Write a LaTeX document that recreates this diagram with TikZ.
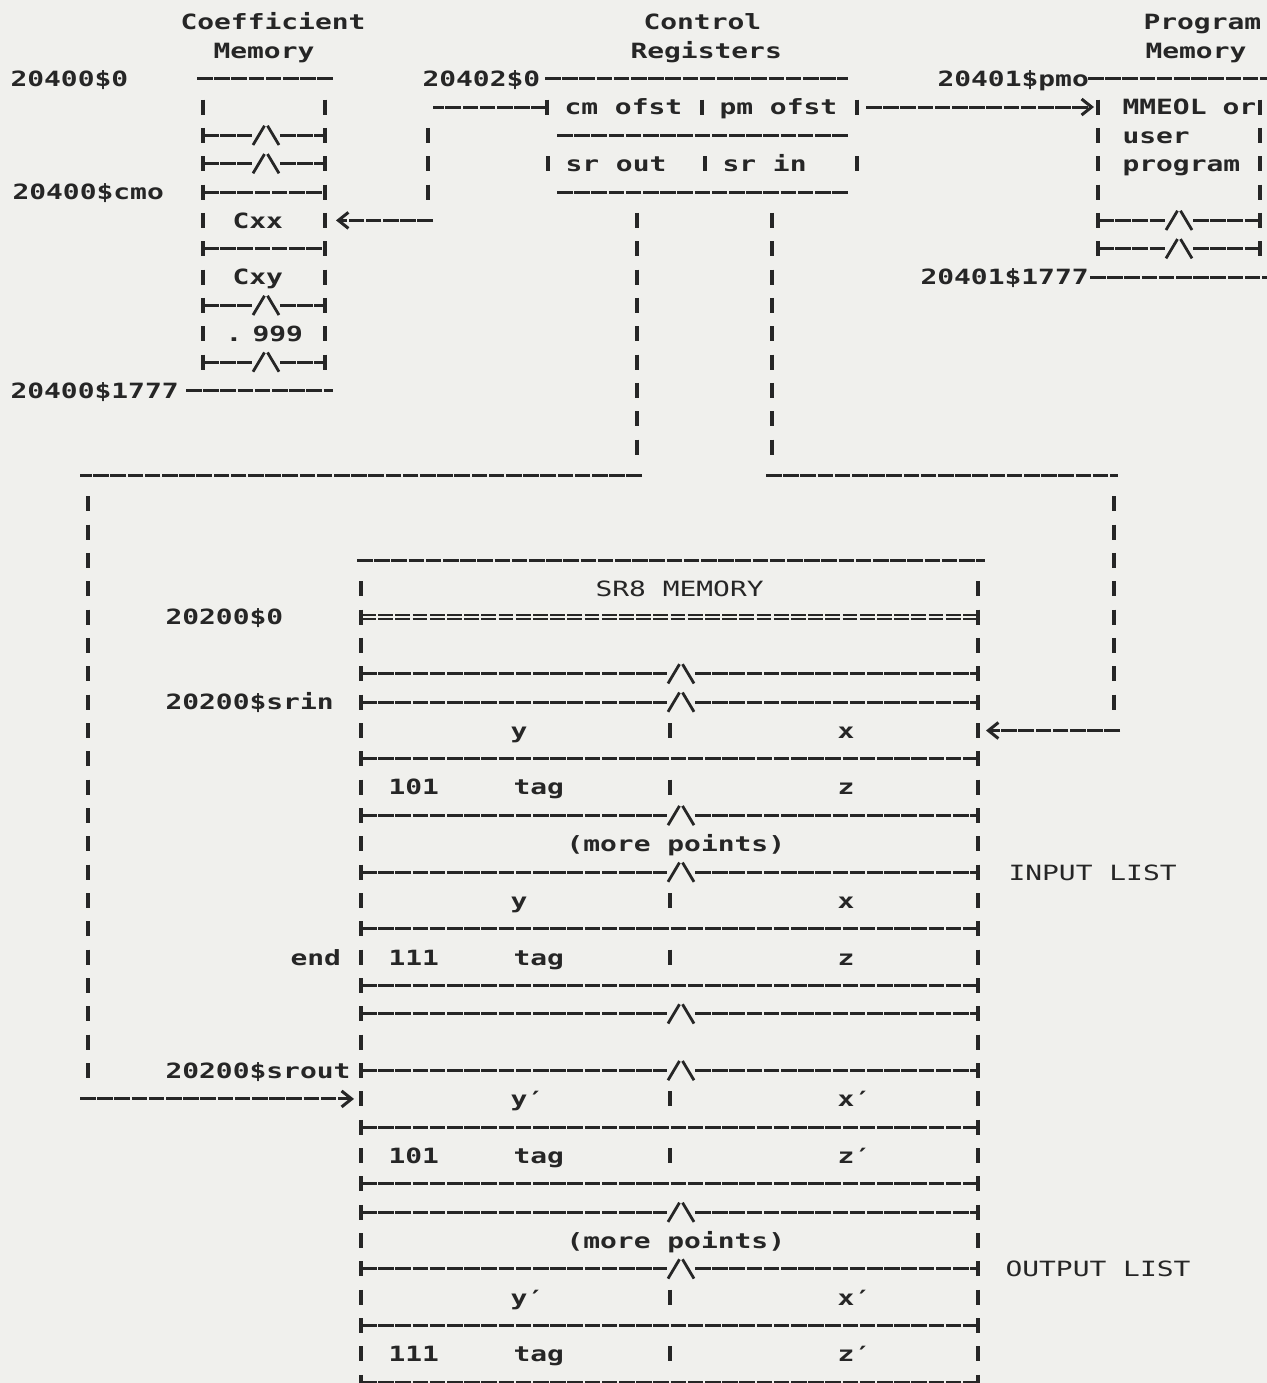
\documentclass[tikz,border=0pt]{standalone}
\usepackage{fontspec}
\newfontfamily\pmono{DejaVu Sans Mono}
\usetikzlibrary{arrows.meta}
\definecolor{ink}{RGB}{38,38,38}
\definecolor{paper}{RGB}{240,240,237}
\tikzset{
  hl/.style={draw=ink, line width=1.5pt, dash pattern=on 7.8pt off 0.8pt},
  vb/.style={draw=ink, line width=1.6pt, dash pattern=on 7.5pt off 6.67pt},
  sl/.style={draw=ink, line width=1.4pt},
  ar/.style={hl, -{Straight Barb[length=5pt,width=8pt]}},
  lb/.style={anchor=base west, inner sep=0pt, text=ink,
    font={\pmono\bfseries\fontsize{10.5}{12}\selectfont},
    xscale=1.33, transform shape, yshift=-3.9pt},
  lt/.style={lb, font={\pmono\fontsize{10.5}{12}\selectfont}}
}
\newcommand\vbars[3]{\draw[vb] (#1,#2-0.265) -- (#1,#3+0.265);}
\newcommand\brkln[4]{%
  \draw[hl] (#1,#3) -- (#4-14,#3);
  \draw[hl] (#4+14,#3) -- (#2,#3);
  \draw[sl] (#4-13,#3+0.34) -- (#4-1.5,#3-0.34);
  \draw[sl] (#4+1.5,#3-0.34) -- (#4+13,#3+0.34);}
\begin{document}
\begin{tikzpicture}
\begin{scope}[x=0.5pt, y=-14.17pt, yshift=-11pt]
\useasboundingbox (0,-0.7763) rectangle (1267,48.024);
\fill[paper] (0,-0.7763) rectangle (1267,48.024);

% titles
\node[lb] (tcoef) at (180,0) {Coefficient};
\node[lb] (tcmem) at (213,1) {Memory};
\node[lb] (tctl) at (643,0) {Control};
\node[lb] (treg) at (630,1) {Registers};
\node[lb] (tprog) at (1143,0) {Program};
\node[lb] (tpmem) at (1145,1) {Memory};

% coefficient memory
\node[lb] (a0) at (10,2) {20400\$0};
\node[lb] (acmo) at (12,6) {20400\$cmo};
\node[lb] (aend) at (10,13) {20400\$1777};
\draw[hl] (197,2) -- (333,2);
\draw[hl] (186,13) -- (333,13);
\vbars{203}{3}{12} \vbars{325}{3}{12}
\brkln{203}{325}{4}{266}
\brkln{203}{325}{5}{266}
\draw[hl] (203,6) -- (325,6);
\draw[hl] (203,8) -- (325,8);
\brkln{203}{325}{10}{266}
\brkln{203}{325}{12}{266}
\node[lb] (cxx) at (232,7) {Cxx};
\node[lb] (cxy) at (232,9) {Cxy};
\node[lb] (cdot) at (225,11) {.};
\node[lb] (c999) at (252,11) {999};

% control registers
\node[lb] (b0) at (422,2) {20402\$0};
\draw[hl] (545,2) -- (848,2);
\vbars{547}{3}{3} \vbars{702}{3}{3} \vbars{857}{3}{3}
\node[lb] (cmofst) at (564,3) {cm ofst};
\node[lb] (pmofst) at (719,3) {pm ofst};
\draw[hl] (557,4) -- (848,4);
\vbars{548}{5}{5} \vbars{705}{5}{5} \vbars{857}{5}{5}
\node[lb] (srout) at (565,5) {sr out};
\node[lb] (srin) at (722,5) {sr in};
\draw[hl] (557,6) -- (848,6);

% cm ofst -> Cxx
\coordinate (cmL) at (547,3);
\coordinate (cmC1) at (433,3);
\coordinate (cmC2) at (433,7);
\coordinate (cxxR) at (336,7);
\draw[hl] (cmL) -- (cmC1);
\vbars{428}{4}{6}
\draw[ar] (cmC2) -- (cxxR);

% pm ofst -> program memory
\coordinate (pmR) at (866,3);
\coordinate (progL) at (1094,3);
\draw[ar] (pmR) -- (progL);

% program memory
\node[lb] (pmo) at (937,2) {20401\$pmo};
\draw[hl] (1088,2) -- (1267,2);
\vbars{1098}{3}{8} \vbars{1260}{3}{8}
\node[lb] (mmeol) at (1122,3) {MMEOL};
\node[lb] (mor) at (1222,3) {or};
\node[lb] (muser) at (1122,4) {user};
\node[lb] (mprog) at (1122,5) {program};
\brkln{1098}{1260}{7}{1179}
\brkln{1098}{1260}{8}{1179}
\node[lb] (p1777) at (920,9) {20401\$1777};
\draw[hl] (1090,9) -- (1267,9);

% sr out / sr in connectors
\vbars{637}{7}{15} \vbars{772}{7}{15}
\draw[hl] (642,16) -- (80,16);
\draw[hl] (766,16) -- (1118,16);
\vbars{88}{17}{37}
\vbars{1114}{17}{24}
\coordinate (outS) at (80,38);
\coordinate (srbL) at (354,38);
\draw[ar] (outS) -- (srbL);
\coordinate (inS) at (1120,25);
\coordinate (srbR) at (986,25);
\draw[ar] (inS) -- (srbR);

% SR8 memory box
\draw[hl] (357,19) -- (985,19);
\vbars{361}{20}{48} \vbars{978}{20}{48}
\draw[ink, line width=1pt, dash pattern=on 7.4pt off 1.2pt] (361,21-0.08) -- (978,21-0.08);
\draw[ink, line width=1pt, dash pattern=on 7.4pt off 1.2pt] (361,21+0.08) -- (978,21+0.08);
\brkln{361}{978}{23}{681}
\brkln{361}{978}{24}{681}
\draw[hl] (361,26) -- (978,26);
\brkln{361}{978}{28}{681}
\brkln{361}{978}{30}{681}
\draw[hl] (361,32) -- (978,32);
\draw[hl] (361,34) -- (978,34);
\brkln{361}{978}{35}{681}
\brkln{361}{978}{37}{681}
\draw[hl] (361,39) -- (978,39);
\draw[hl] (361,41) -- (978,41);
\brkln{361}{978}{42}{681}
\brkln{361}{978}{44}{681}
\draw[hl] (361,46) -- (978,46);
\draw[hl] (361,48) -- (978,48);
\vbars{670}{25}{25} \vbars{670}{27}{27}
\vbars{670}{31}{31} \vbars{670}{33}{33}
\vbars{670}{38}{38} \vbars{670}{40}{40}
\vbars{670}{45}{45} \vbars{670}{47}{47}

\node[lt] (srbt) at (595,20) {SR8 MEMORY};
\node[lb] (s0) at (165,21) {20200\$0};
\node[lb] (ssrin) at (165,24) {20200\$srin};
\node[lb] (y1) at (510,25) {y};
\node[lb] (x1) at (837,25) {x};
\node[lb] (f1) at (388,27) {101};
\node[lb] (tag1) at (513,27) {tag};
\node[lb] (z1) at (837,27) {z};
\node[lb] (more1) at (566,29) {(more points)};
\node[lt] (inl) at (1008,30) {INPUT LIST};
\node[lb] (y2) at (510,31) {y};
\node[lb] (x2) at (837,31) {x};
\node[lb] (send) at (290,33) {end};
\node[lb] (f2) at (388,33) {111};
\node[lb] (tag2) at (513,33) {tag};
\node[lb] (z2) at (837,33) {z};
\node[lb] (ssrout) at (165,37) {20200\$srout};
\node[lb] (y3) at (510,38) {y′};
\node[lb] (x3) at (837,38) {x′};
\node[lb] (f3) at (388,40) {101};
\node[lb] (tag3) at (513,40) {tag};
\node[lb] (z3) at (837,40) {z′};
\node[lb] (more2) at (566,43) {(more points)};
\node[lt] (outl) at (1005,44) {OUTPUT LIST};
\node[lb] (y4) at (510,45) {y′};
\node[lb] (x4) at (837,45) {x′};
\node[lb] (f4) at (388,47) {111};
\node[lb] (tag4) at (513,47) {tag};
\node[lb] (z4) at (837,47) {z′};
\end{scope}
\end{tikzpicture}
\end{document}
